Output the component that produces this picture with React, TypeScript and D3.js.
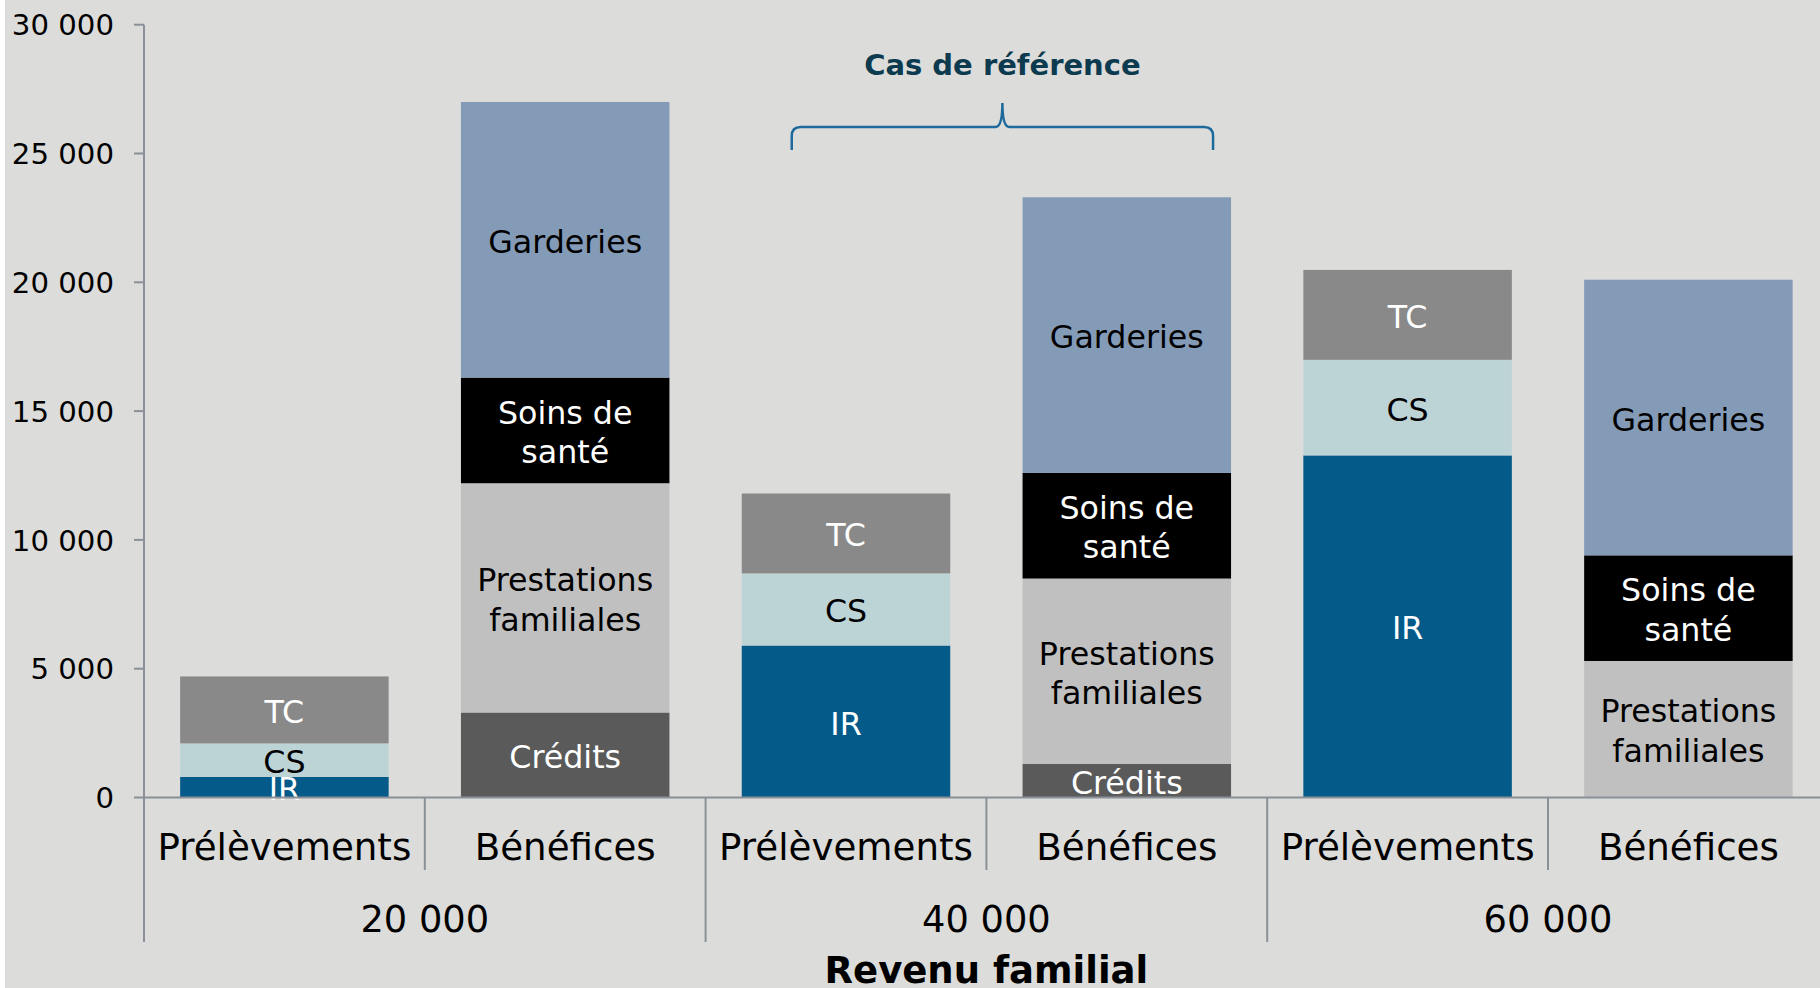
import React from "react";
import * as d3 from "d3";

// ---- data ----
const barIds = ["P20", "B20", "P40", "B40", "P60", "B60"];
const barLabels = ["Prélèvements", "Bénéfices", "Prélèvements", "Bénéfices", "Prélèvements", "Bénéfices"];
const incomeGroups = ["20 000", "40 000", "60 000"];
const yTicks = [0, 5000, 10000, 15000, 20000, 25000, 30000];

const IR = [800, 0, 5900, 0, 13280, 0];
const CS = [1300, 0, 2800, 0, 3710, 0];
const TC = [2600, 0, 3100, 0, 3490, 0];
const Credits = [0, 3300, 0, 1300, 0, 0];
const Prestations = [0, 8900, 0, 7200, 0, 5300];
const Soins = [0, 4100, 0, 4100, 0, 4100];
const Garderies = [0, 10700, 0, 10700, 0, 10700];

const seriesKeys = ["IR", "CS", "TC", "Credits", "Prestations", "Soins", "Garderies"];
const seriesLabels: Record<string, string[]> = {
  IR: ["IR"],
  CS: ["CS"],
  TC: ["TC"],
  Credits: ["Crédits"],
  Prestations: ["Prestations", "familiales"],
  Soins: ["Soins de", "santé"],
  Garderies: ["Garderies"],
};
const seriesColors: Record<string, string> = {
  IR: "#045a88",
  CS: "#bdd4d7",
  TC: "#898989",
  Credits: "#5a5a5a",
  Prestations: "#c0c0c0",
  Soins: "#000000",
  Garderies: "#849bb8",
};
const labelColors: Record<string, string> = {
  IR: "#ffffff",
  CS: "#000000",
  TC: "#ffffff",
  Credits: "#ffffff",
  Prestations: "#000000",
  Soins: "#ffffff",
  Garderies: "#000000",
};
const titleText = "Cas de référence";
const axisTitle = "Revenu familial";

const W = 1820;
const H = 988;
const FONT = "'DejaVu Sans', Verdana, sans-serif";
const AXIS = "#8a9097";

export default function App() {
  const rows = barIds.map((id, i) => ({
    id,
    IR: IR[i],
    CS: CS[i],
    TC: TC[i],
    Credits: Credits[i],
    Prestations: Prestations[i],
    Soins: Soins[i],
    Garderies: Garderies[i],
  }));
  const stacked = d3.stack<any>().keys(seriesKeys)(rows);

  const x0 = 144;
  const step = 280.8;
  const x = d3.scaleBand<string>().domain(barIds).range([x0, x0 + step * barIds.length]).padding(0);
  const xg = d3.scaleBand<string>().domain(incomeGroups).range([x0, x0 + step * barIds.length]).padding(0);
  const y = d3.scaleLinear().domain([0, 30000]).range([797.5, 24.7]);
  const bw = x.bandwidth() * 0.7425;
  const bx = (id: string) => (x(id) as number) + (x.bandwidth() - bw) / 2;

  const fmt = d3.formatLocale({ thousands: " ", grouping: [3], decimal: ",", currency: ["", "€"] }).format(",");

  // brace over the reference case (40 000)
  const bl = bx("P40") + 50;
  const br = bx("B40") + bw - 18;
  const bm = (bl + br) / 2;
  const by = 127;
  const braceTop = 103;
  const braceBottom = 150;
  const bracePath = `M${bl},${braceBottom} L${bl},${by + 9} Q${bl},${by} ${bl + 9},${by} L${bm - 7},${by} Q${bm},${by} ${bm},${braceTop} Q${bm},${by} ${bm + 7},${by} L${br - 9},${by} Q${br},${by} ${br},${by + 9} L${br},${braceBottom}`;

  const axisBottom = y(0);

  return (
    <svg width={W} height={H} style={{ position: "absolute", left: 0, top: 0, display: "block" }} fontFamily={FONT}>
      <rect x={5} y={0} width={W - 5} height={H} fill="#dcdcda" />

      {/* bars */}
      {stacked.map((s) => (
        <g key={s.key}>
          {s.map((d, i) =>
            d[1] - d[0] > 0 ? (
              <rect
                key={i}
                x={bx(barIds[i])}
                y={y(d[1])}
                width={bw}
                height={y(d[0]) - y(d[1])}
                fill={seriesColors[s.key]}
              />
            ) : null
          )}
        </g>
      ))}

      {/* segment labels */}
      {stacked.map((s) => (
        <g key={"l" + s.key}>
          {s.map((d, i) => {
            if (d[1] - d[0] <= 0) return null;
            const lines = seriesLabels[s.key];
            const cy = (y(d[0]) + y(d[1])) / 2;
            const cx = bx(barIds[i]) + bw / 2;
            const lh = 39.5;
            return (
              <text
                key={i}
                x={cx}
                textAnchor="middle"
                fontSize={31.7}
                fill={labelColors[s.key]}
              >
                {lines.map((ln, k) => (
                  <tspan key={k} x={cx} y={cy + (k - (lines.length - 1) / 2) * lh + 13}>
                    {ln}
                  </tspan>
                ))}
              </text>
            );
          })}
        </g>
      ))}

      {/* y axis */}
      <line x1={x0} x2={x0} y1={y(30000)} y2={942} stroke={AXIS} strokeWidth={2} />
      {yTicks.map((t) => (
        <g key={t}>
          <line x1={x0 - 10} x2={x0} y1={y(t)} y2={y(t)} stroke={AXIS} strokeWidth={2} />
          <text x={114} y={y(t) + 10.6} textAnchor="end" fontSize={29.2} fill="#000">
            {fmt(t)}
          </text>
        </g>
      ))}

      {/* x axis */}
      <line x1={x0} x2={W} y1={axisBottom} y2={axisBottom} stroke={AXIS} strokeWidth={2} />
      {barIds.map((id, i) =>
        i % 2 === 1 ? (
          <line key={"s" + id} x1={x(id)} x2={x(id)} y1={axisBottom} y2={870} stroke={AXIS} strokeWidth={2} />
        ) : null
      )}
      {incomeGroups.map((g) => (
        <line key={"g" + g} x1={xg(g)} x2={xg(g)} y1={axisBottom} y2={942} stroke={AXIS} strokeWidth={2} />
      ))}
      {barIds.map((id, i) => (
        <text key={"t" + id} x={(x(id) as number) + x.bandwidth() / 2} y={860} textAnchor="middle" fontSize={37.2} fill="#000">
          {barLabels[i]}
        </text>
      ))}
      {incomeGroups.map((g) => (
        <text key={"gt" + g} x={(xg(g) as number) + xg.bandwidth() / 2} y={932} textAnchor="middle" fontSize={36.8} fill="#000">
          {g}
        </text>
      ))}
      <text x={x0 + step * 3} y={983} textAnchor="middle" fontSize={37} fontWeight="bold" fill="#000">
        {axisTitle}
      </text>

      {/* annotation */}
      <path d={bracePath} fill="none" stroke="#1f6a9c" strokeWidth={2.5} />
      <text x={bm} y={75} textAnchor="middle" fontSize={29} fontWeight="bold" fill="#0c3a4f">
        {titleText}
      </text>
    </svg>
  );
}
